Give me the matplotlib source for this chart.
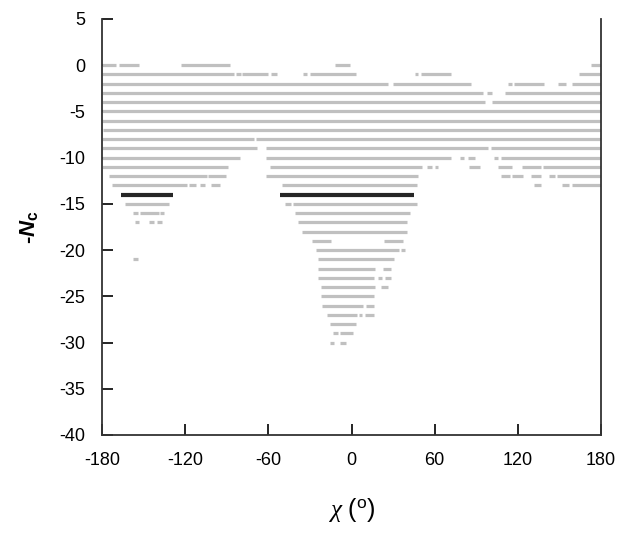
# -*- coding: utf-8 -*-
# -Nc vs chi segment chart: gray bars = intervals per Nc level, dark = highlighted level
import matplotlib
matplotlib.use("Agg")
import matplotlib.pyplot as plt

# ===================== DATA =====================
# one gray segment per entry: level (-Nc), start chi, end chi (deg)
gray_y = [0, 0, 0, 0, 0,
          -1, -1, -1, -1, -1, -1, -1, -1, -1,
          -2, -2, -2, -2, -2, -2,
          -3, -3, -3,
          -4, -4,
          -5, -6, -7,
          -8, -8,
          -9, -9, -9,
          -10, -10, -10, -10, -10, -10,
          -11, -11, -11, -11, -11, -11, -11, -11,
          -12, -12, -12, -12, -12, -12, -12, -12,
          -13, -13, -13, -13, -13, -13, -13, -13,
          -15, -15, -15,
          -16, -16, -16, -16,
          -17, -17, -17, -17,
          -18,
          -19, -19,
          -20, -20,
          -21, -21,
          -22, -22,
          -23, -23, -23,
          -24, -24,
          -25,
          -26, -26,
          -27, -27, -27,
          -28,
          -29, -29,
          -30, -30]
gray_x0 = [-180, -168, -123, -12, 173,
           -180, -83, -79, -58, -35, -30, 46, 50, 164,
           -180, 30, 113, 117, 149, 159,
           -180, 98, 111,
           -180, 101,
           -180, -180, -179,
           -180, -69,
           -180, -62, 100.5,
           -180, -62, 78, 84, 103, 107.5,
           -180, -59, 54.5, 60, 85, 105.5, 123, 138,
           -175, -103.5, -62, 107.5, 115.5, 129.5, 142.5, 148,
           -173, -117.5, -109, -101.5, -50.5, 131.5, 152, 159,
           -163.5, -48, -42,
           -157.5, -152.5, -138, -41,
           -156.5, -146, -140.5, -38.5,
           -35.5,
           -28.5, 23.5,
           -25.5, 36,
           -157.5, -24.5,
           -24.5, 22.7,
           -24.5, 19.3, 24,
           -22, 21,
           -22,
           -21, 10.7,
           -18, 5.2, 9.6,
           -15.4,
           -13.5, -8,
           -15.4, -8]
gray_x1 = [-170, -153, -88, -1, 180,
           -85, -80, -60, -54, -32, 3, 48, 72, 180,
           26, 86, 116, 139, 155, 180,
           95, 101, 180,
           96, 180,
           180, 180, 180,
           -70.5, 180,
           -68.5, 98.5, 180,
           -80.5, 71.5, 81, 89, 106, 180,
           -89, 51, 58, 62.5, 92.5, 116, 136.5, 180,
           -104.5, -90.5, 48, 114, 124, 136.5, 146.5, 180,
           -118.5, -112, -106, -95, 47, 137, 157, 180,
           -131.5, -44, 47,
           -154, -139, -135, 42,
           -153, -142.5, -137, 40,
           40,
           -14.5, 37.5,
           34.5, 38.3,
           -154, 31,
           17, 28.2,
           16, 21.7, 28.2,
           17, 26.2,
           16,
           8, 16,
           4, 7.8, 16,
           3.2,
           -10, 1.3,
           -12.5, -4]

# highlighted level
dark_y  = [-14, -14]
dark_x0 = [-166.5, -51.5]
dark_x1 = [-129, 45]

x_ticks = [-180, -120, -60, 0, 60, 120, 180]
y_ticks = list(range(-40, 6, 5))
# ================================================

plt.rcParams["font.family"] = ["Liberation Sans", "DejaVu Sans"]
plt.rcParams["axes.unicode_minus"] = False
plt.rcParams["mathtext.fontset"] = "custom"
plt.rcParams["mathtext.it"] = "Liberation Serif:italic"
plt.rcParams["mathtext.rm"] = "Liberation Sans"
plt.rcParams["mathtext.bf"] = "Liberation Sans:bold:italic"
plt.rcParams["mathtext.sf"] = "Liberation Sans:bold"

fig = plt.figure(figsize=(6.21, 5.33), dpi=100)
ax = fig.add_axes([0.1643, 0.1839, 0.8035, 0.7805])

ax.hlines(gray_y, gray_x0, gray_x1, colors="#c0c0c0", linewidth=2.3)
ax.hlines(dark_y, dark_x0, dark_x1, colors="#262626", linewidth=3.0)

ax.set_xlim(-180, 180)
ax.set_ylim(-40, 5)
ax.set_xticks(x_ticks)
ax.set_yticks(y_ticks)
ax.tick_params(direction="in", length=8, width=1.2, labelsize=13)
ax.tick_params(axis="y", pad=12)
ax.tick_params(axis="x", pad=12)

ax.spines["top"].set_visible(False)
for s in ["left", "right", "bottom"]:
    ax.spines[s].set_linewidth(1.3)
    ax.spines[s].set_color("#333333")

ax.set_xlabel(r"$\chi$ ($^{\mathrm{o}}$)", fontsize=18, labelpad=20)
ax.set_ylabel(r"-$\mathbf{N}_{\mathsf{c}}$", fontsize=16, fontweight="bold", labelpad=14)

fig.savefig("out.png", dpi=100)
plt.close(fig)
